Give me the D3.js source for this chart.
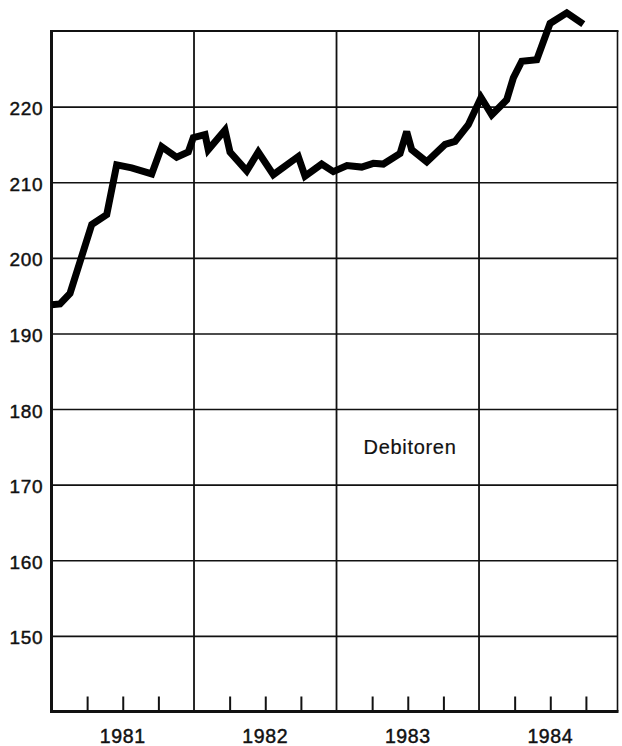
<!DOCTYPE html>
<html>
<head>
<meta charset="utf-8">
<script src="https://cdn.jsdelivr.net/npm/d3@7"></script>
<style>
  body { margin: 0; background: #fff; }
  text { font-family: "Liberation Sans", Arial, sans-serif; fill: #111; stroke: #111; stroke-width: 0.45px; }
</style>
</head>
<body>
<div id="chart"></div>
<script>
// month position (0 = Jan 1981) and value of each vertex of the line
const months = [0, 0.72, 1.56, 3.39, 4.65, 5.49, 6.75, 8.44, 9.28, 10.54, 11.52, 11.94,
  12.93, 13.2, 14.61, 15.03, 16.44, 17.41, 18.68, 20.78, 21.35, 22.75, 23.73,
  24.88, 26.12, 27.1, 27.94, 29.35, 29.91, 30.33, 31.6, 33.14, 33.98, 35.1,
  36.17, 37.07, 38.33, 38.89, 39.6, 40.86, 41.98, 43.39, 44.78];
const debitoren = [193.8, 193.9, 195.3, 204.4, 205.7, 212.3, 211.9, 211.1, 214.7, 213.3, 214.0, 215.9,
  216.3, 214.3, 216.9, 214.0, 211.5, 214.0, 211.0, 213.4, 210.8, 212.4, 211.4,
  212.2, 212.0, 212.5, 212.4, 213.8, 216.7, 214.3, 212.7, 215.0, 215.4, 217.6,
  221.2, 218.9, 220.9, 223.8, 226.0, 226.2, 231.0, 232.4, 230.9];
const years = ["1981", "1982", "1983", "1984"];
const yTicks = [150, 160, 170, 180, 190, 200, 210, 220];
const seriesLabel = "Debitoren";

const width = 622, height = 746;
const m = { left: 51.5, right: 617.5, top: 31, bottom: 711.5 };

const svg = d3.select("#chart").append("svg")
  .attr("width", width)
  .attr("height", height);

const x = d3.scaleLinear().domain([0, 47.66]).range([m.left, m.right]);
const y = d3.scaleLinear().domain([140, 230]).range([m.bottom, m.top]);

// horizontal grid + labels
const yAxis = svg.append("g")
  .attr("transform", `translate(${m.left},0)`)
  .call(d3.axisLeft(y).tickValues(yTicks).tickSize(-(m.right - m.left)).tickPadding(8).tickFormat(d3.format("d")));
yAxis.select(".domain").remove();
yAxis.selectAll(".tick line").attr("stroke", "#111").attr("stroke-width", 1.6);
yAxis.selectAll(".tick text")
  .attr("font-size", 19)
  .attr("letter-spacing", 0.8)
  .attr("dy", "0.42em")
  .attr("fill", "#111");

// year boundaries
const yearLines = d3.range(1, years.length);
svg.selectAll(".yearline")
  .data(yearLines)
  .enter()
  .append("line")
  .attr("x1", d => x(d * 12)).attr("x2", d => x(d * 12))
  .attr("y1", m.top).attr("y2", m.bottom)
  .attr("stroke", "#111")
  .attr("stroke-width", 1.8);

// quarter ticks on the bottom axis
const quarters = d3.range(0, 48, 3).filter(q => q % 12 != 0);
const xAxis = svg.append("g")
  .attr("transform", `translate(0,${m.bottom})`)
  .call(d3.axisBottom(x).tickValues(quarters).tickSize(-15).tickFormat(""));
xAxis.select(".domain").remove();
xAxis.selectAll(".tick line").attr("stroke", "#111").attr("stroke-width", 2);

// year labels
svg.selectAll(".year")
  .data(years)
  .enter()
  .append("text")
  .attr("x", (d, i) => x(i * 12 + 6))
  .attr("y", 743)
  .attr("text-anchor", "middle")
  .attr("font-size", 19.5)
  .attr("letter-spacing", 0.6)
  .text(d => d);

// frame
svg.append("line").attr("x1", m.left - 1).attr("x2", m.right + 1).attr("y1", m.top).attr("y2", m.top)
  .attr("stroke", "#111").attr("stroke-width", 2.2);
svg.append("line").attr("x1", m.right).attr("x2", m.right).attr("y1", m.top).attr("y2", m.bottom)
  .attr("stroke", "#111").attr("stroke-width", 1.6);
svg.append("line").attr("x1", m.left).attr("x2", m.left).attr("y1", m.top - 1).attr("y2", m.bottom + 1.5)
  .attr("stroke", "#111").attr("stroke-width", 3);
svg.append("line").attr("x1", m.left - 1.5).attr("x2", m.right + 1).attr("y1", m.bottom).attr("y2", m.bottom)
  .attr("stroke", "#111").attr("stroke-width", 3);

// the series
const line = d3.line()
  .x(d => x(d[0]))
  .y(d => y(d[1]));

svg.append("path")
  .datum(d3.zip(months, debitoren))
  .attr("d", line)
  .attr("fill", "none")
  .attr("stroke", "#000")
  .attr("stroke-width", 7)
  .attr("stroke-linejoin", "miter")
  .attr("stroke-miterlimit", 2.5);

svg.append("text")
  .attr("x", 410)
  .attr("y", 454)
  .attr("text-anchor", "middle")
  .attr("font-size", 20)
  .attr("letter-spacing", 0.7)
  .style("stroke-width", "0.2px")
  .text(seriesLabel);
</script>
</body>
</html>
